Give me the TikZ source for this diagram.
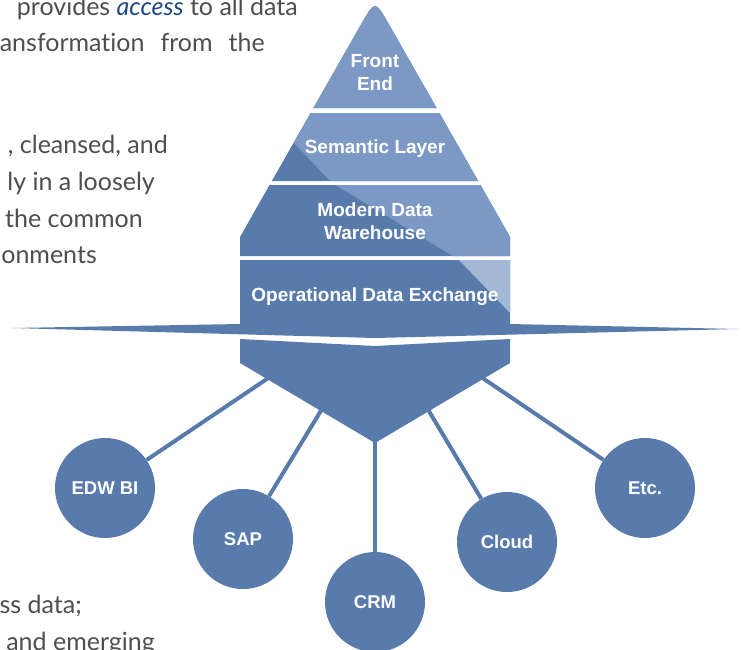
\documentclass[tikz,border=0pt]{standalone}
\usepackage{fontspec}
\setmainfont{Lato}[Ligatures=NoCommon]
\newfontfamily\labelfont{Liberation Sans}
\usetikzlibrary{positioning}
\definecolor{layerdark}{RGB}{89,123,172}
\definecolor{layerlight}{RGB}{123,153,196}
\definecolor{layerpale}{RGB}{163,184,213}
\definecolor{accessblue}{RGB}{30,72,128}
\definecolor{bodygray}{RGB}{78,78,78}

\tikzset{
  layerlabel/.style={text=white, align=center, inner sep=0pt,
    font=\labelfont\bfseries\fontsize{19}{23}\selectfont},
  source/.style={circle, fill=layerdark, minimum size=100pt, inner sep=0pt,
    text=white, font=\labelfont\bfseries\fontsize{18.5}{21}\selectfont},
  feed/.style={draw=layerdark, line width=4pt},
  bodyline/.style={anchor=base east, inner sep=0pt, text=bodygray,
    font=\fontsize{25}{30}\selectfont},
}

% block outlines of the pyramid
\newcommand{\frontendpath}{(361.3,24) .. controls (375,0) .. (388.7,24) -- (436.6,108) -- (313.4,108) -- cycle}
\newcommand{\semanticpath}{(310.6,113) -- (439.4,113) -- (478.2,181) -- (271.8,181) -- cycle}
\newcommand{\warehousepath}{(269.5,185) -- (480.5,185) -- (510,237) -- (510,256) -- (240,256) -- (240,237) -- cycle}
\newcommand{\exchangepath}{(240,260) -- (510,260) -- (510,324) -- (738,329) -- (375,338) -- (12,328) -- (240,324) -- cycle}

\begin{document}
\begin{tikzpicture}[x=1pt, y=-1pt]
  \useasboundingbox (0,0) rectangle (742,649);
  \clip (0,0) rectangle (742,649);

  % text of the page behind the figure
  \node[bodyline] (t1) at (298,15) {provides \textcolor{accessblue}{\textit{access}} to all data};
  \node[bodyline] (t2) at (265,51) {\makebox[265pt][s]{ansformation from the}};
  \node[bodyline] (t3) at (168,153) {, cleansed, and};
  \node[bodyline] (t4) at (155,190) {ly in a loosely};
  \node[bodyline] (t5) at (143,227) {the common};
  \node[bodyline] (t6) at (97,263) {onments};
  \node[bodyline] (t7) at (82,613) {ss data;};
  \node[bodyline] (t8) at (155,650) {and emerging};

  % sources
  \node[source] (edw) at (105,488) {EDW BI};
  \node[source] (sap) at (243,539) {SAP};
  \node[source] (crm) at (375,602) {CRM};
  \node[source] (cloud) at (507,542) {Cloud};
  \node[source] (etc) at (645,488) {Etc.};

  % feeds end under the funnel
  \coordinate (inE) at (298,358);
  \coordinate (inS) at (339,381);
  \coordinate (inC) at (375,420);
  \coordinate (inCl) at (411,381);
  \coordinate (inX) at (453,358);
  \draw[feed] (edw) -- (inE);
  \draw[feed] (sap) -- (inS);
  \draw[feed] (crm) -- (inC);
  \draw[feed] (cloud) -- (inCl);
  \draw[feed] (etc) -- (inX);

  % funnel
  \fill[layerdark] (240,339) -- (375,346) -- (510,339) -- (510,363) -- (375,443) -- (240,363) -- cycle;

  % pyramid, dark pass
  \fill[layerdark] \frontendpath;
  \fill[layerdark] \semanticpath;
  \fill[layerdark] \warehousepath;
  \fill[layerdark] \exchangepath;

  % light pass on the upper right
  \begin{scope}
    \clip (240,86) -- (332,183) -- (458,259) -- (512,315) -- (512,0) -- (240,0) -- cycle;
    \fill[layerlight] \frontendpath;
    \fill[layerlight] \semanticpath;
    \fill[layerlight] \warehousepath;
    \fill[layerpale] \exchangepath;
  \end{scope}

  % layer labels
  \node[layerlabel] (fe) at (375,73) {Front\\End};
  \node[layerlabel] (sl) at (375,149) {Semantic Layer};
  \node[layerlabel] (mdw) at (375,221) {Modern Data\\Warehouse};
  \node[layerlabel] (ode) at (375,297) {Operational Data Exchange};
\end{tikzpicture}
\end{document}
